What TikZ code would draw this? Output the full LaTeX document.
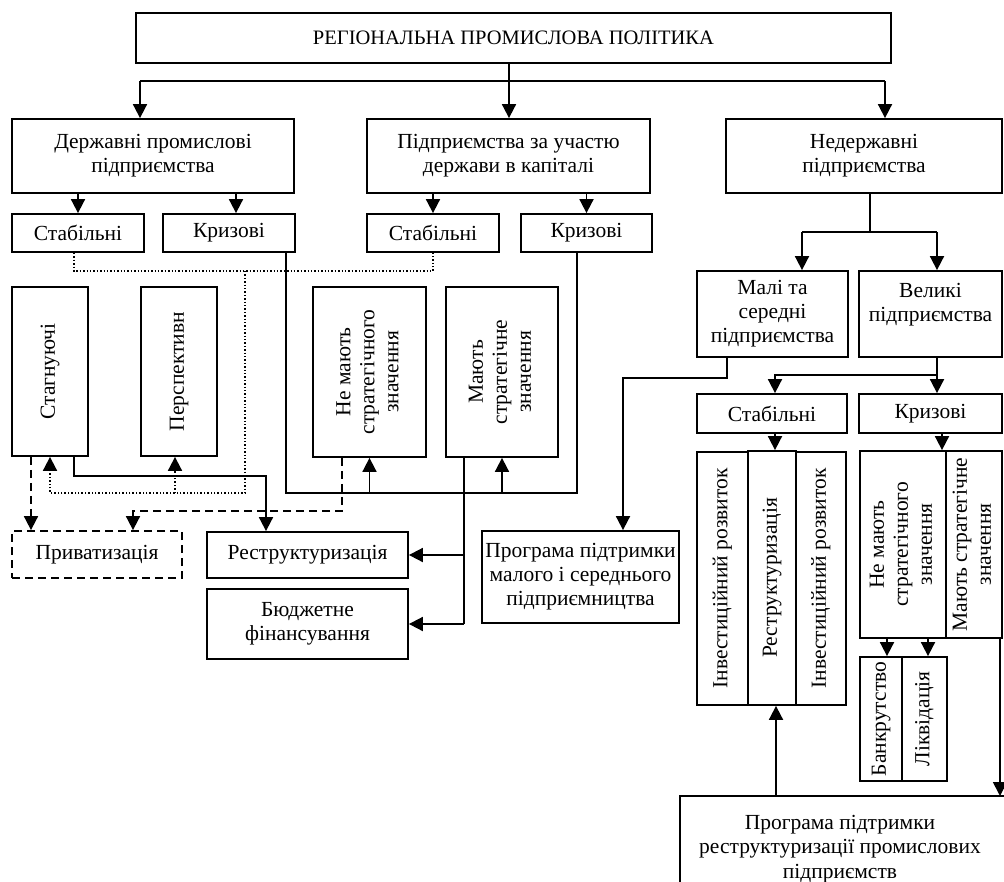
\documentclass[tikz,border=0pt]{standalone}
\usepackage{fontspec}
\setmainfont{Liberation Serif}
\usetikzlibrary{arrows.meta}
\newcommand{\vtext}[1]{\rotatebox{90}{\begin{tabular}{@{}c@{}}#1\end{tabular}}}
\begin{document}
\begin{tikzpicture}[x=1pt,y=-1pt,
 bx/.style={draw, line width=1.8pt, inner sep=0pt, align=center, font=\fontsize{21.5}{24}\selectfont},
 dbx/.style={bx, dash pattern=on 8pt off 5pt},
 txt/.style={inner sep=0pt, align=center, font=\fontsize{21.5}{24.5}\selectfont},
 ln/.style={line width=1.8pt},
 arr/.style={line width=1.8pt, -{Triangle[length=14pt,width=14pt]}},
 dot/.style={line width=1.4pt, dash pattern=on 1.4pt off 2pt},
 dsh/.style={line width=1.8pt, dash pattern=on 8pt off 5pt},
]
\useasboundingbox (0,0) rectangle (1004,881);
\clip (0,0) rectangle (1004,881);

% top
\node[bx, minimum width=755, minimum height=50, font=\fontsize{20.5}{24}\selectfont] (title) at (513.5,38) {РЕГІОНАЛЬНА ПРОМИСЛОВА ПОЛІТИКА};
\node[bx, minimum width=282, minimum height=74] (dp) at (153,156) {Державні промислові\\підприємства};
\node[bx, minimum width=283, minimum height=74] (pu) at (508.5,156) {Підприємства за участю\\держави в капіталі};
\node[bx, minimum width=276, minimum height=74] (nd) at (864,156) {Недержавні\\підприємства};

% row 3
\node[bx, minimum width=132, minimum height=38] (s1) at (78,233) {Стабільні};
\node[bx, minimum width=132, minimum height=38] (k1) at (229,233) {Кризові};
\node[bx, minimum width=132, minimum height=38] (s2) at (433,233) {Стабільні};
\node[bx, minimum width=131, minimum height=38] (k2) at (586.5,233) {Кризові};

% tall boxes left
\node[bx, minimum width=76, minimum height=169] (st) at (50,371.5) {\vtext{Стагнуючі}};
\node[bx, minimum width=76, minimum height=169] (pe) at (179,371.5) {\vtext{Перспективн}};
\node[bx, minimum width=113, minimum height=170] (nm) at (369.5,372) {\vtext{Не мають\\стратегічного\\значення}};
\node[bx, minimum width=112, minimum height=170] (ms) at (502,372) {\vtext{Мають\\стратегічне\\значення}};

% bottom left
\node[dbx, minimum width=170, minimum height=47] (pr) at (97,554.5) {Приватизація};
\node[bx, minimum width=201, minimum height=46] (re) at (307.5,555) {Реструктуризація};
\node[bx, minimum width=201, minimum height=70] (bf) at (307.5,624) {Бюджетне\\фінансування};
\node[bx, minimum width=197, minimum height=92] (pm) at (580.5,577) {Програма підтримки\\малого і середнього\\підприємництва};

% right side
\node[bx, minimum width=151, minimum height=86] (mal) at (772.5,314) {Малі та\\середні\\підприємства};
\node[bx, minimum width=143, minimum height=86] (vel) at (930.5,314) {Великі\\підприємства\\\mbox{}};
\node[bx, minimum width=150, minimum height=39] (s3) at (772,413.5) {Стабільні};
\node[bx, minimum width=143, minimum height=39] (k3) at (930.5,413.5) {Кризові};

\node[bx, minimum width=51, minimum height=253] (i1) at (722.5,578.5) {\vtext{Інвестиційний розвиток}};
\node[bx, minimum width=48, minimum height=254] (r3) at (772,578) {\vtext{Реструктуризація}};
\node[bx, minimum width=50, minimum height=253] (i2) at (821,578.5) {\vtext{Інвестиційний розвиток}};
\node[bx, minimum width=86, minimum height=187] (nm3) at (903,544.5) {\vtext{Не мають\\стратегічного\\значення}};
\node[bx, minimum width=56, minimum height=187] (ms3) at (974,544.5) {\vtext{Мають стратегічне\\значення}};
\node[bx, minimum width=42, minimum height=124] (bk) at (881,719) {\vtext{Банкрутство}};
\node[bx, minimum width=45, minimum height=124] (lq) at (924.5,719) {\vtext{Ліквідація}};

\node[txt] (pp) at (840,849) {Програма підтримки\\реструктуризації промислових\\підприємств};
\draw[ln] (680,900) |- (1012,796);

% connectors: top
\coordinate (b1) at (140,81);
\coordinate (b2) at (509,81);
\coordinate (b3) at (885,81);
\draw[ln] (title.south -| b2) -- (b2);
\draw[ln] (b1) -- (b3);
\draw[arr] (b1) -- (b1 |- dp.north);
\draw[arr] (b2) -- (b2 |- pu.north);
\draw[arr] (b3) -- (b3 |- nd.north);

\draw[arr] (dp.south -| s1.north) -- (s1.north);
\draw[arr] ([xshift=7pt]k1.north |- dp.south) -- ([xshift=7pt]k1.north);
\draw[arr] (pu.south -| s2.north) -- (s2.north);
\draw[arr] (pu.south -| k2.north) -- (k2.north);

% dotted
\coordinate (dj) at (245,271);
\coordinate (dl) at (245,493);
\draw[dot] ([xshift=-4pt]s1.south) |- (dj) -| (s2.south);
\draw[dot] (dj) -- (dl) -| ([yshift=-10pt]st.south);
\draw[arr] ([yshift=-10pt]st.south) -- (st.south);
\draw[dot] ([xshift=-4pt]pe.south |- dl) -- ([xshift=-4pt,yshift=-10pt]pe.south);
\draw[arr] ([xshift=-4pt,yshift=-10pt]pe.south) -- ([xshift=-4pt]pe.south);

% solid bus from crisis boxes
\coordinate (kl) at (286,493);
\coordinate (kr) at (577,493);
\draw[ln] ([xshift=57pt]k1.south) -- (kl) -- (kr) -- (kr |- k2.south);
\draw[arr] (nm.south |- kl) -- (nm.south);
\draw[arr] (ms.south |- kr) -- (ms.south);

% Stagnuyuchi -> Restructuring
\coordinate (sj) at (266,476);
\draw[arr] ([xshift=24pt]st.south) |- (sj) -- (sj |- re.north);

% dashed to privatization
\draw[dsh] ([xshift=-19pt]st.south) -- ([xshift=-19pt,yshift=12pt]st.south |- pr.north);
\draw[arr] ([xshift=-19pt,yshift=12pt]st.south |- pr.north) -- ([xshift=-19pt]st.south |- pr.north);
\coordinate (dA) at (133,511);
\draw[dsh] ([xshift=-27.5pt]nm.south) |- (dA) -- ([yshift=10pt]dA |- pr.north);
\draw[arr] ([yshift=10pt]dA |- pr.north) -- (dA |- pr.north);

% strategic -> restructuring / budget
\coordinate (mj) at (464,624);
\draw[ln] ([xshift=-38pt]ms.south) -- (mj);
\draw[arr] (mj) -- (bf.east);
\draw[arr] (re.east -| mj) -- (re.east);

% small/medium -> programme
\coordinate (mA) at (623,378);
\draw[arr] ([xshift=-45.5pt]mal.south) |- (mA) -- (mA |- pm.north);

% non-state branches
\coordinate (nA) at (802,232);
\coordinate (nB) at (937,232);
\draw[ln] ([xshift=6pt]nd.south) -- ([xshift=6pt]nd.south |- nA);
\draw[ln] (nA) -- (nB);
\draw[arr] (nA) -- (nA |- mal.north);
\draw[arr] (nB) -- (nB |- vel.north);

% large -> stable / crisis
\coordinate (vA) at (937,375);
\coordinate (vB) at (775,375);
\draw[arr] (vel.south -| vA) -- (vA |- k3.north);
\draw[arr] (vA) -- (vB) -- (vB |- s3.north);
\draw[arr] (vB |- s3.south) -- (vB |- r3.north);
\draw[arr] ([xshift=11.5pt]k3.south) -- ([xshift=11.5pt]k3.south |- nm3.north);
\draw[arr] ([xshift=6pt]bk.north |- nm3.south) -- ([xshift=6pt]bk.north);
\draw[arr] ([xshift=3.5pt]lq.north |- nm3.south) -- ([xshift=3.5pt]lq.north);

% to/from restructuring programme
\coordinate (pR) at (1000,796);
\coordinate (pT) at (776,796);
\draw[arr] (ms3.south -| pR) -- (pR);
\draw[arr] (pT) -- (pT |- r3.south);
\end{tikzpicture}
\end{document}
